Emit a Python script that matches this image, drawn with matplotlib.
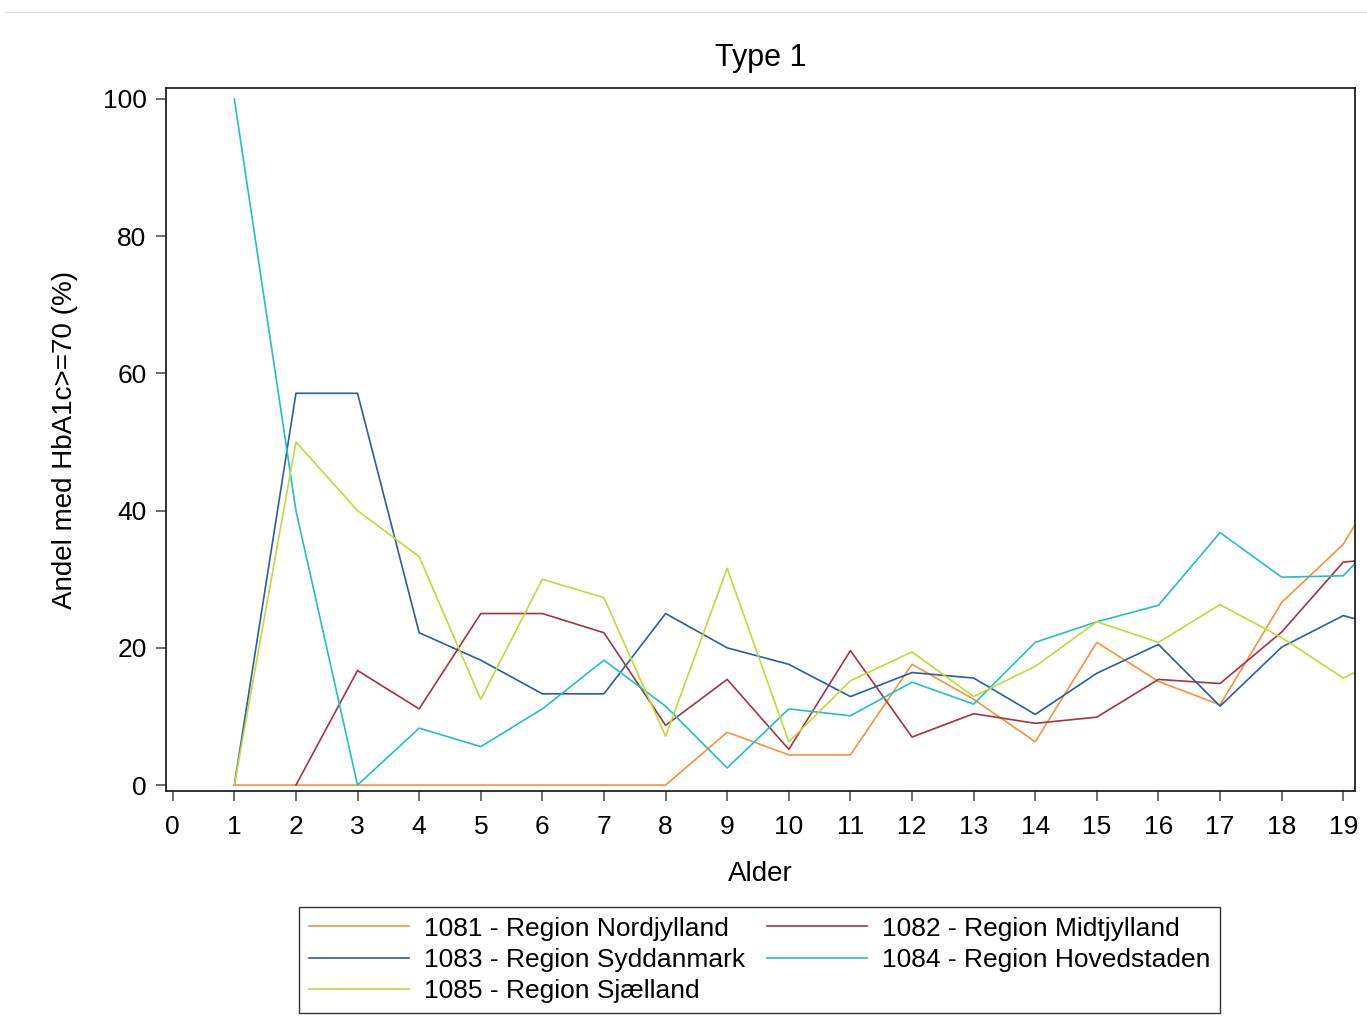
import matplotlib
matplotlib.use("Agg")
import matplotlib.pyplot as plt
from matplotlib.lines import Line2D

plt.rcParams['font.family'] = ['Liberation Sans', 'DejaVu Sans']

# age groups and share (%) with HbA1c >= 70 per region
alder = list(range(1, 21))
nordjylland = [0, 0, 0, 0, 0, 0, 0, 0, 7.7, 4.4, 4.4, 17.6, 12.5, 6.3, 20.8, 15.1, 11.7, 26.6, 35.1, 50.0]
midtjylland_x = list(range(2, 21))
midtjylland = [0, 16.7, 11.1, 25.0, 25.0, 22.2, 8.7, 15.4, 5.2, 19.6, 7.0, 10.4, 9.0, 9.9, 15.4, 14.8, 22.3, 32.5, 33.3]
syddanmark = [0, 57.1, 57.1, 22.2, 18.2, 13.3, 13.3, 25.0, 20.0, 17.6, 12.9, 16.4, 15.6, 10.3, 16.3, 20.5, 11.5, 20.1, 24.7, 22.2]
hovedstaden = [100, 40.0, 0, 8.3, 5.6, 11.1, 18.2, 11.5, 2.5, 11.1, 10.1, 15.0, 11.8, 20.8, 23.8, 26.2, 36.8, 30.3, 30.5, 40.0]
sjaelland = [0, 50.0, 40.0, 33.3, 12.5, 30.0, 27.3, 7.1, 31.6, 6.3, 15.2, 19.4, 12.9, 17.3, 23.8, 20.8, 26.3, 21.5, 15.6, 20.0]

labels = ["1081 - Region Nordjylland", "1082 - Region Midtjylland",
          "1083 - Region Syddanmark", "1084 - Region Hovedstaden",
          "1085 - Region Sjælland"]
colors = ["#F7923A", "#A8323E", "#2A5DA8", "#1FC0C8", "#C3D83A"]

fig = plt.figure(figsize=(13.67, 10.30), dpi=100)
ax = fig.add_axes([0.1214, 0.232, 0.8698, 0.6826])

ax.plot(alder, nordjylland, color=colors[0], lw=1.2, label=labels[0])
ax.plot(midtjylland_x, midtjylland, color=colors[1], lw=1.2, label=labels[1])
ax.plot(alder, syddanmark, color=colors[2], lw=1.2, label=labels[2])
ax.plot(alder, hovedstaden, color=colors[3], lw=1.2, label=labels[3])
ax.plot(alder, sjaelland, color=colors[4], lw=1.2, label=labels[4])

ax.set_xlim(-0.11, 19.19)
ax.set_ylim(-0.87, 101.6)
ax.set_xticks(range(0, 20))
ax.set_yticks(range(0, 101, 20))
ax.tick_params(direction='out', length=7, width=1.2, labelsize=19, color='#555555')
ax.tick_params(axis='x', pad=10)
ax.tick_params(axis='y', pad=7)
for s in ax.spines.values():
    s.set_linewidth(1.3)
    s.set_color('#222222')

ax.set_title("Type 1", fontsize=22, pad=16)
ax.set_xlabel("Alder", fontsize=20, labelpad=16)
ax.set_ylabel("Andel med HbA1c>=70 (%)", fontsize=20, labelpad=18)

# legend filled row by row: 1081 1082 / 1083 1084 / 1085
order = [0, 2, 4, 1, 3]
handles = [Line2D([], [], color=colors[i], lw=1.2) for i in order]
leg = fig.legend(handles, [labels[i] for i in order], ncol=2, loc='lower center',
                 bbox_to_anchor=(0.5556, 0.0165), fontsize=19, frameon=True,
                 fancybox=False, edgecolor='black', handlelength=3.8,
                 columnspacing=0.85, labelspacing=0.27, borderpad=0.38,
                 handletextpad=0.55, borderaxespad=0)
leg.get_frame().set_linewidth(1.0)

# thin rule along the top of the page
fig.add_artist(Line2D([0.004, 1.0], [0.988, 0.988], transform=fig.transFigure,
                      color='#e0e0e0', lw=1))

fig.savefig("out.png", dpi=100)
